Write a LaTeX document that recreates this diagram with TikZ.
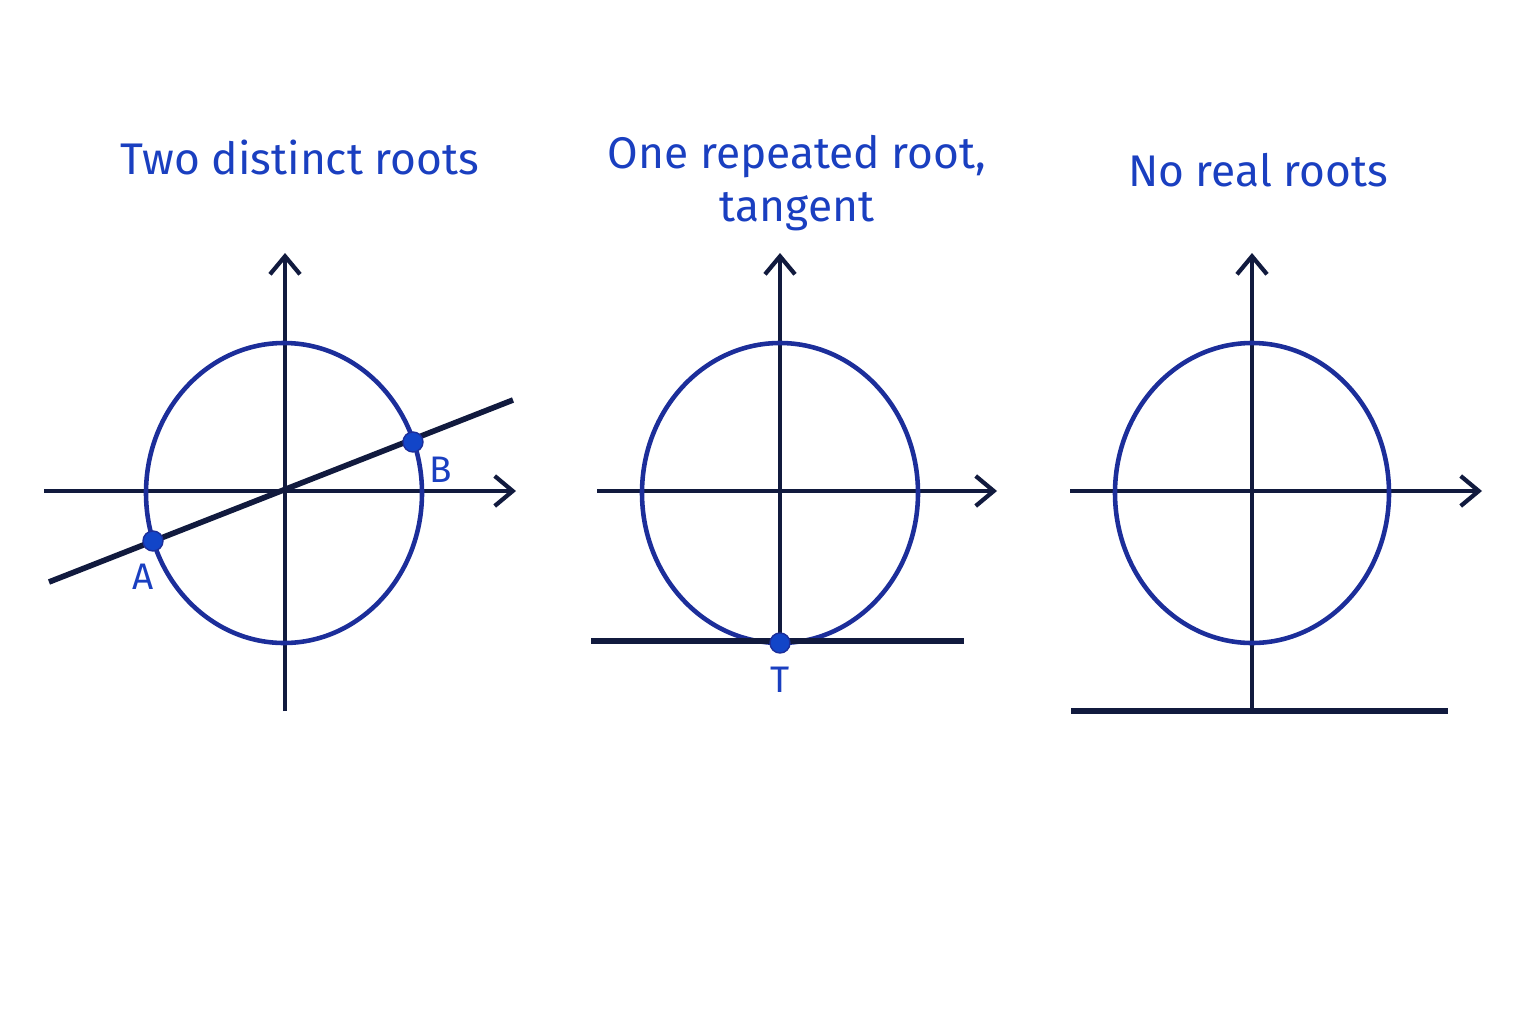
\documentclass[tikz,border=0pt]{standalone}
\usepackage{fontspec}
\setmainfont{Fira Sans}
\usetikzlibrary{arrows.meta}
\definecolor{titleblue}{HTML}{1A3FC0}
\definecolor{ringblue}{HTML}{1C2E9A}
\definecolor{axisnavy}{HTML}{111A3E}
\definecolor{dotblue}{HTML}{1245C8}
\begin{document}
\begin{tikzpicture}[x=0.01cm, y=-0.01cm,
  axis/.style  = {axisnavy, line width=1.2pt, -{Straight Barb[length=1.8mm,width=3mm]}},
  ring/.style  = {ringblue, line width=1.3pt},
  chord/.style = {axisnavy, line width=1.6pt},
  pt/.style    = {circle, fill=dotblue, draw=ringblue, inner sep=0pt, minimum size=0.2cm},
  lbl/.style   = {text=titleblue, font=\fontsize{10.5}{11}\selectfont},
  title/.style = {text=titleblue, font=\fontsize{12.6}{15}\selectfont, align=center}
]
  \useasboundingbox (0,0) rectangle (1536,1024);

  % Two distinct roots
  \node[title] (t1) at (300,157) {Two distinct roots};
  \coordinate (x1s) at (44,491);  \coordinate (x1e) at (516,491);
  \coordinate (y1s) at (285,711); \coordinate (y1e) at (285,253);
  \draw[axis] (x1s) -- (x1e);
  \draw[axis] (y1s) -- (y1e);
  \draw[ring] (284,493) ellipse [x radius=138, y radius=150];
  \coordinate (l1s) at (49,582); \coordinate (l1e) at (513,400);
  \draw[chord] (l1s) -- (l1e);
  \node[pt] (A) at (153,541) {};
  \node[pt] (B) at (413,442) {};
  \node[lbl] (Alab) at (143,577) {A};
  \node[lbl] (Blab) at (441,470) {B};

  % One repeated root
  \node[title] (t2) at (797,183) {One repeated root,\\tangent};
  \coordinate (x2s) at (597,491); \coordinate (x2e) at (997,491);
  \coordinate (y2s) at (780,643); \coordinate (y2e) at (780,253);
  \draw[axis] (x2s) -- (x2e);
  \draw[axis] (y2s) -- (y2e);
  \draw[ring] (780,493) ellipse [x radius=138, y radius=150];
  \coordinate (l2s) at (591,641); \coordinate (l2e) at (964,641);
  \draw[chord] (l2s) -- (l2e);
  \node[pt] (T) at (780,643) {};
  \node[lbl] (Tlab) at (780,680) {T};

  % No real roots
  \node[title] (t3) at (1258,170) {No real roots};
  \coordinate (x3s) at (1070,491); \coordinate (x3e) at (1482,491);
  \coordinate (y3s) at (1252,711); \coordinate (y3e) at (1252,253);
  \draw[axis] (x3s) -- (x3e);
  \draw[axis] (y3s) -- (y3e);
  \draw[ring] (1252,493) ellipse [x radius=137, y radius=150];
  \coordinate (l3s) at (1071,711); \coordinate (l3e) at (1448,711);
  \draw[chord] (l3s) -- (l3e);
\end{tikzpicture}
\end{document}
